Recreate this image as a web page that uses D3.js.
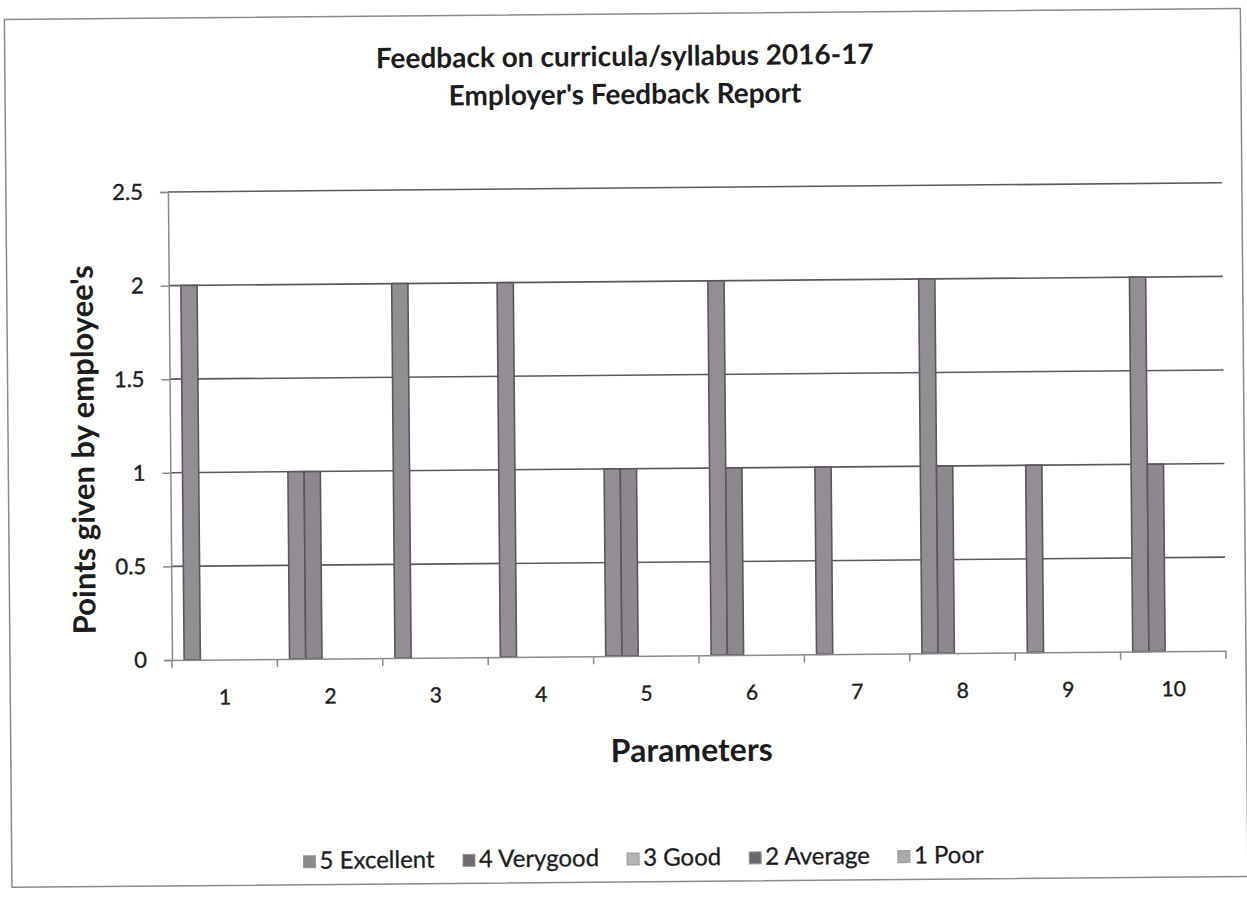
<!DOCTYPE html>
<html><head><meta charset="utf-8">
<script src="https://cdn.jsdelivr.net/npm/d3@7"></script>
<style>
body{margin:0;background:#fff;}
text{font-family:Lato,"Open Sans",sans-serif;fill:#1c1c1c;}
</style></head>
<body><svg id="c" width="1247" height="900"></svg>
<script>
const categories = ["1","2","3","4","5","6","7","8","9","10"];
const seriesNames = ["5 Excellent","4 Verygood","3 Good","2 Average","1 Poor"];
const excellent = [2,1,2,2,1,2,1,2,1,2];
const verygood  = [0,1,0,0,1,1,0,1,0,1];
const good      = [0,0,0,0,0,0,0,0,0,0];
const average   = [0,0,0,0,0,0,0,0,0,0];
const poor      = [0,0,0,0,0,0,0,0,0,0];
const yTicks = [0,0.5,1,1.5,2,2.5];
const titleLines = ["Feedback on curricula/syllabus 2016-17","Employer's Feedback Report"];
const yTitle = "Points given by employee's";
const xTitle = "Parameters";

const seriesValues = [excellent, verygood, good, average, poor];
const barColors = ["#928e94","#8c888e","#b3b1b4","#6f6c70","#a9a7aa"];
const legendColors = ["#8a888b","#6d6b6e","#b4b2b5","#6a686b","#aaa8ab"];

const svg = d3.select("#c");
const g = svg.append("g").attr("transform","rotate(-0.5,625,430)");

// outer border
g.append("rect").attr("x",8).attr("y",14).attr("width",1236).attr("height",868)
  .attr("fill","none").attr("stroke","#8a8a8a").attr("stroke-width",1.5);

const L=170, R=1224, T=188, B=656;
const x0 = d3.scaleBand().domain(categories).range([L,R]).paddingInner(0).paddingOuter(0);
const gapFrac = 1.5/6.5;
const x1 = d3.scaleBand().domain(d3.range(5)).range([0,x0.bandwidth()*(1-gapFrac)]);
const y = d3.scaleLinear().domain([0,2.5]).range([B,T]);

// gridlines
g.append("g").selectAll("line").data(yTicks.filter(d=>d>0)).join("line")
  .attr("x1",L).attr("x2",R).attr("y1",d=>y(d)).attr("y2",d=>y(d))
  .attr("stroke","#5a5a5a").attr("stroke-width",1.6);

// bars
const groupOff = x0.bandwidth()*gapFrac/2;
seriesValues.forEach((vals,si)=>{
  g.append("g").selectAll("rect").data(vals.map((v,i)=>({v,c:categories[i]})).filter(d=>d.v>0)).join("rect")
    .attr("x",d=>x0(d.c)+groupOff+x1(si))
    .attr("width",x1.bandwidth())
    .attr("y",d=>y(d.v)).attr("height",d=>B-y(d.v))
    .attr("fill",barColors[si]).attr("stroke","#5a565c").attr("stroke-width",1.6);
});

// y axis
const ya = d3.axisLeft(y).tickValues(yTicks).tickSize(8).tickPadding(17)
  .tickFormat(d=>d===0?"0":String(d));
const yg = g.append("g").attr("transform",`translate(${L},0)`).call(ya);
yg.select(".domain").attr("stroke","#8a8a8a").attr("stroke-width",1.5);
yg.selectAll(".tick line").attr("stroke","#8a8a8a").attr("stroke-width",1.5);
yg.selectAll("text").attr("font-size",22).attr("fill","#1c1c1c").style("font-family","Lato")
  .attr("stroke","#1c1c1c").attr("stroke-width",0.4);

// x axis
const xa = d3.axisBottom(x0).tickSize(0).tickPadding(30);
const xg = g.append("g").attr("transform",`translate(0,${B})`).call(xa);
xg.select(".domain").attr("stroke","#8a8a8a").attr("stroke-width",1.5);
xg.selectAll("text").attr("font-size",21).attr("fill","#1c1c1c").style("font-family","Lato")
  .attr("stroke","#1c1c1c").attr("stroke-width",0.4);
xg.append("g").selectAll("line").data(categories.concat(["end"])).join("line")
  .attr("x1",(d,i)=>L+i*x0.bandwidth()).attr("x2",(d,i)=>L+i*x0.bandwidth())
  .attr("y1",0).attr("y2",8).attr("stroke","#8a8a8a").attr("stroke-width",1.5);

// titles
g.append("text").attr("x",628).attr("y",66).attr("text-anchor","middle")
  .attr("font-size",28).attr("font-weight","bold").text(titleLines[0]);
g.append("text").attr("x",628).attr("y",104).attr("text-anchor","middle")
  .attr("font-size",28).attr("font-weight","bold").text(titleLines[1]);
g.append("text").attr("transform","translate(94,445) rotate(-90)").attr("text-anchor","middle")
  .attr("font-size",31).attr("font-weight","bold").text(yTitle);
g.append("text").attr("x",689).attr("y",762).attr("text-anchor","middle")
  .attr("font-size",32).attr("font-weight","bold").text(xTitle);

// legend
const lg = g.append("g");
const items = lg.selectAll("g").data(seriesNames).join("g");
items.append("rect").attr("width",12).attr("height",12).attr("y",-13)
  .attr("fill",(d,i)=>legendColors[i]).attr("stroke","#999").attr("stroke-width",1);
items.append("text").attr("x",16).attr("y",0).attr("font-size",24)
  .attr("stroke","#1c1c1c").attr("stroke-width",0.3).text(d=>d);
const widths=[];
items.each(function(){widths.push(this.getBBox().width);});
const gap=28; const total=d3.sum(widths)+gap*(widths.length-1);
const start=640-total/2;
items.attr("transform",(d,i)=>`translate(${start+d3.sum(widths.slice(0,i))+gap*i},866)`);
</script></body></html>
